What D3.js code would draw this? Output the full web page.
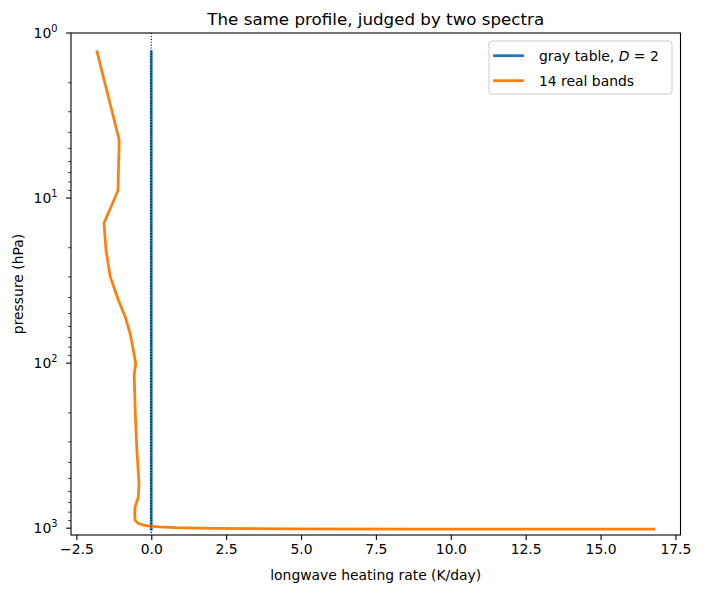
<!DOCTYPE html>
<html><head><meta charset="utf-8">
<script src="https://cdn.jsdelivr.net/npm/d3@7"></script>
<style>
body{margin:0;background:#fff;}
text{font-family:"DejaVu Sans",sans-serif;fill:#000;}
</style></head>
<body><svg id="c" width="703" height="593"></svg>
<script>
// ---- data ----
const pressure = [1.3, 4.45, 9.0, 14.2, 20.7, 30.0, 41.5, 52.4, 65.8, 83.4, 100.5, 118, 211, 337, 534, 646, 743, 811, 895, 937, 959, 972, 982, 993, 1003, 1009, 1012, 1013];
const realBands = [-1.81, -1.07, -1.11, -1.58, -1.51, -1.37, -1.10, -0.87, -0.71, -0.60, -0.52, -0.57, -0.53, -0.48, -0.41, -0.43, -0.54, -0.55, -0.54, -0.43, -0.26, -0.04, 0.25, 0.8, 2.0, 4.5, 9.0, 16.78];
const grayTable = [0, 0, 0, 0, 0, 0, 0, 0, 0, 0, 0, 0, 0, 0, 0, 0, 0, 0, 0, 0, 0, 0, 0, 0, 0, 0, 0, 0];
const xTicks = [-2.5, 0, 2.5, 5, 7.5, 10, 12.5, 15, 17.5];
const yMajor = [1, 10, 100, 1000];
const yExp = ["0", "1", "2", "3"];
const xDomain = [-2.68, 17.67];
const yDomain = [1, 1100];

const svg = d3.select("#c");
const L = 71, R = 680.5, T = 33, B = 535;
const x = d3.scaleLinear().domain(xDomain).range([L, R]);
const y = d3.scaleLog().domain(yDomain).range([T, B]);

svg.append("defs").append("clipPath").attr("id","clip")
  .append("rect").attr("x",L).attr("y",T).attr("width",R-L).attr("height",B-T);

const g = svg.append("g").attr("clip-path","url(#clip)");
const line = d3.line().x(d=>x(d[0])).y(d=>y(d[1]));

g.append("path").datum(grayTable.map((v,i)=>[v,pressure[i]]))
  .attr("d",line).attr("fill","none").attr("stroke","#1f77b4")
  .attr("stroke-width",2.78).attr("stroke-linecap","square").attr("stroke-linejoin","round");
g.append("path").datum(realBands.map((v,i)=>[v,pressure[i]]))
  .attr("d",line).attr("fill","none").attr("stroke","#ff7f0e")
  .attr("stroke-width",2.78).attr("stroke-linecap","square").attr("stroke-linejoin","round");
// dotted zero line
g.append("line").attr("x1",x(0)).attr("x2",x(0)).attr("y1",T).attr("y2",B)
  .attr("stroke","#000").attr("stroke-width",1.1).attr("stroke-dasharray","1.1,1.8");

// frame
svg.append("rect").attr("x",L).attr("y",T).attr("width",R-L).attr("height",B-T)
  .attr("fill","none").attr("stroke","#000").attr("stroke-width",1.1);

// x axis
const xa = svg.append("g").attr("transform",`translate(0,${B})`)
  .call(d3.axisBottom(x).tickValues(xTicks).tickFormat(d3.format(".1f")).tickSize(4.9).tickPadding(4.5));
xa.select(".domain").remove();
xa.selectAll("line").attr("stroke","#000").attr("stroke-width",1.1);
xa.selectAll("text").style("font-size","13.9px").style("font-family","DejaVu Sans");

// y axis
const ya = svg.append("g").attr("transform",`translate(${L},0)`);
const minor = [];
[1,10,100].forEach(dec=>{for(let k=2;k<=9;k++) minor.push(dec*k);});
ya.selectAll(".mn").data(minor).join("line").attr("class","mn")
  .attr("x1",0).attr("x2",-2.8).attr("y1",d=>y(d)).attr("y2",d=>y(d))
  .attr("stroke","#000").attr("stroke-width",0.8);
ya.selectAll(".mj").data(yMajor).join("line").attr("class","mj")
  .attr("x1",0).attr("x2",-4.9).attr("y1",d=>y(d)).attr("y2",d=>y(d))
  .attr("stroke","#000").attr("stroke-width",1.1);
const yl = ya.selectAll(".yl").data(yMajor).join("text").attr("class","yl")
  .attr("x",-13.5).attr("y",d=>y(d)+5).attr("text-anchor","end").style("font-size","13.9px");
yl.append("tspan").text("10");
yl.append("tspan").attr("dy",-6).style("font-size","9.8px").text((d,i)=>yExp[i]);
// keep tspans right aligned: shift handled by anchor end on whole text

// title & labels
svg.append("text").attr("x",(L+R)/2).attr("y",25).attr("text-anchor","middle")
  .style("font-size","16.7px").text("The same profile, judged by two spectra");
svg.append("text").attr("x",(L+R)/2).attr("y",580).attr("text-anchor","middle")
  .style("font-size","13.9px").text("longwave heating rate (K/day)");
svg.append("text").attr("transform",`translate(23,${(T+B)/2}) rotate(-90)`).attr("text-anchor","middle")
  .style("font-size","13.9px").text("pressure (hPa)");

// legend
const lg = svg.append("g");
lg.append("rect").attr("x",489).attr("y",41).attr("width",183).attr("height",53).attr("rx",3)
  .attr("fill","#fff").attr("fill-opacity",0.8).attr("stroke","#cccccc").attr("stroke-width",1);
const items = [{c:"#1f77b4", y:55.7}, {c:"#ff7f0e", y:80.7}];
items.forEach(it=>{
  lg.append("line").attr("x1",494.5).attr("x2",522.5).attr("y1",it.y).attr("y2",it.y)
    .attr("stroke",it.c).attr("stroke-width",2.78).attr("stroke-linecap","square");
});
const t1 = lg.append("text").attr("x",539).attr("y",60.5).style("font-size","13.9px");
t1.append("tspan").text("gray table, ");
t1.append("tspan").style("font-style","italic").text("D");
t1.append("tspan").text(" = 2");
lg.append("text").attr("x",539).attr("y",85.5).style("font-size","13.9px").text("14 real bands");
</script></body></html>
